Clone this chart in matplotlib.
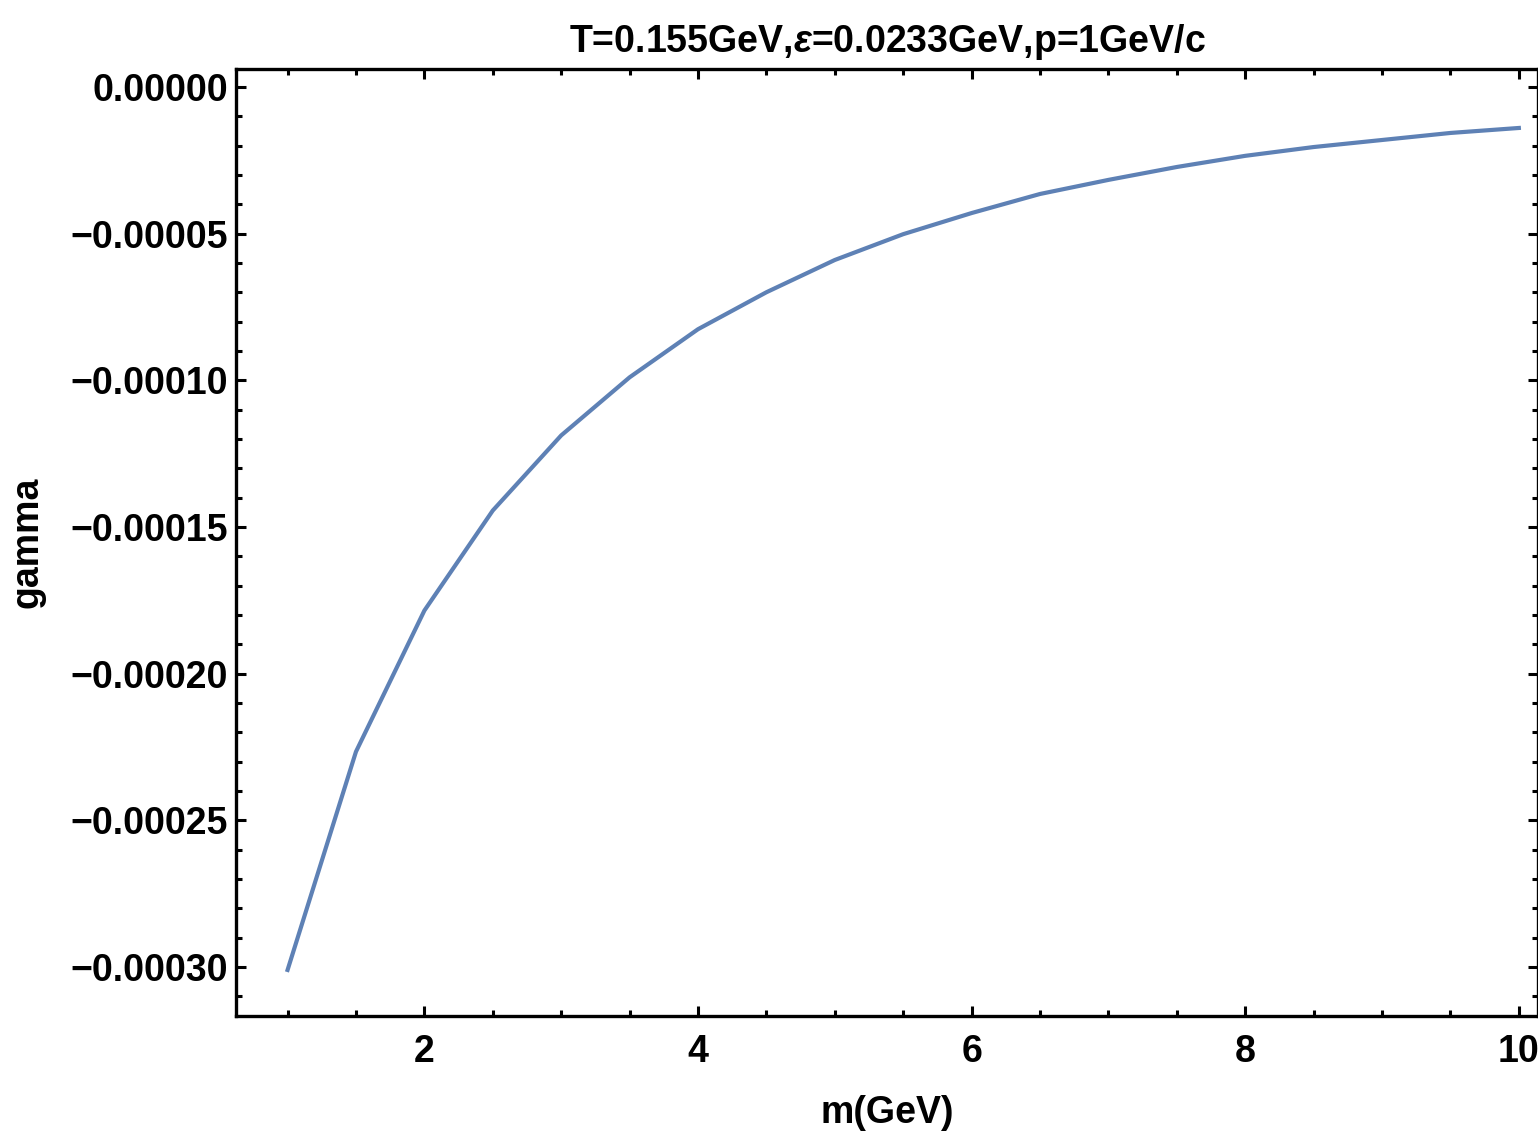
import matplotlib
matplotlib.use("Agg")
import matplotlib.pyplot as plt
from matplotlib.ticker import MultipleLocator, FuncFormatter

m = [1.0, 1.5, 2.0, 2.5, 3.0, 3.5, 4.0, 4.5, 5.0, 5.5, 6.0, 6.5, 7.0, 7.5, 8.0, 8.5, 9.0, 9.5, 10.0]
gamma = [-0.000301, -0.0002266, -0.0001785, -0.0001444, -0.0001188, -0.0000990, -0.0000826,
         -0.0000700, -0.0000590, -0.0000502, -0.0000430, -0.0000365, -0.0000317, -0.0000273,
         -0.0000235, -0.0000205, -0.0000181, -0.0000157, -0.0000140]
title = "T=0.155GeV,$\\varepsilon$=0.0233GeV,p=1GeV/c"
xlabel = "m(GeV)"
ylabel = "gamma"

plt.rcParams['font.family'] = ['Liberation Sans', 'DejaVu Sans']
plt.rcParams['font.weight'] = 'bold'
plt.rcParams['mathtext.fontset'] = 'custom'
plt.rcParams['mathtext.it'] = 'Liberation Sans:italic:bold'
plt.rcParams['mathtext.rm'] = 'Liberation Sans:bold'

fig = plt.figure(figsize=(15.38, 11.45), dpi=100)
ax = fig.add_axes([236/1538, (1145-1016)/1145, (1538-236)/1538, (1016-69)/1145])

ax.plot(m, gamma, color='#5E81B5', lw=3.0, solid_joinstyle='round')

ax.set_xlim(0.623, 10.14)
ax.set_ylim(-0.0003167, 0.0000061)

ax.xaxis.set_major_locator(MultipleLocator(2))
ax.xaxis.set_minor_locator(MultipleLocator(0.5))
ax.yaxis.set_major_locator(MultipleLocator(0.00005))
ax.yaxis.set_minor_locator(MultipleLocator(0.00001))
ax.yaxis.set_major_formatter(FuncFormatter(lambda v, p: ("%.5f" % v).replace("-", "\u2212") if abs(v) > 1e-12 else "0.00000"))
ax.xaxis.set_major_formatter(FuncFormatter(lambda v, p: "%d" % round(v)))

ax.tick_params(which='both', direction='in', top=True, right=True, width=2.2, color='black')
ax.tick_params(which='major', length=7.5, labelsize=27)
ax.tick_params(axis='y', which='major', pad=6)
ax.tick_params(axis='x', which='major', pad=13)
ax.tick_params(which='minor', length=4)
for lab in ax.get_xticklabels() + ax.get_yticklabels():
    lab.set_fontweight('bold')
for s in ax.spines.values():
    s.set_linewidth(2.4)

ax.set_title(title, fontsize=27, fontweight='bold', pad=12)
ax.set_xlabel(xlabel, fontsize=27, fontweight='bold', labelpad=18)
ax.set_ylabel(ylabel, fontsize=27, fontweight='bold', labelpad=18)

fig.savefig("out.png", dpi=100)
